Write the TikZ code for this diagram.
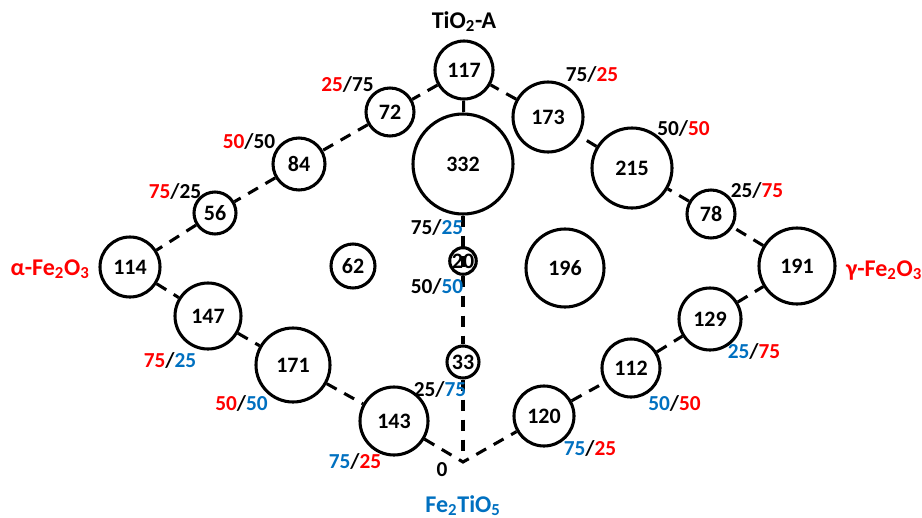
\documentclass[tikz,border=0pt]{standalone}
\usepackage{fontspec}
\setmainfont{Carlito}
\usetikzlibrary{backgrounds}
\definecolor{fred}{RGB}{255,0,0}
\definecolor{fblue}{RGB}{0,112,192}
\newcommand\cR[1]{\textcolor{fred}{#1}}
\newcommand\cB[1]{\textcolor{fblue}{#1}}
\begin{document}
\begin{tikzpicture}[x=0.75pt,y=-0.75pt,
  bub/.style={circle,draw,line width=2.3pt,fill=white,minimum size={(#1-1)*1.5pt},inner sep=0pt,
    font=\fontsize{16.5}{18}\selectfont\bfseries},
  lnk/.style={line width=2.3pt,dash pattern=on 8.5pt off 6.5pt},
  lab/.style={font=\fontsize{16}{18}\selectfont\bfseries,inner sep=0pt},
  ttl/.style={font=\fontsize{18}{20}\selectfont\bfseries,inner sep=0pt,anchor=base},
]
\useasboundingbox (0,0) rectangle (922,518);
% circles
\node[bub=30] (n117) at (464,70) {117};
\node[bub=25] (n72) at (390,112) {72};
\node[bub=27] (n84) at (299,164) {84};
\node[bub=22] (n56) at (215,213) {56};
\node[bub=31] (n114) at (130,267) {114};
\node[bub=34] (n147) at (208,316) {147};
\node[bub=38] (n171) at (293,365) {171};
\node[bub=35] (n143) at (394,421) {143};
\node[bub=51] (n332) at (463,164) {332};
\node[bub=36] (n173) at (548,117) {173};
\node[bub=41] (n215) at (632,168) {215};
\node[bub=25] (n78) at (711,214) {78};
\node[bub=39] (n191) at (797,266) {191};
\node[bub=32] (n129) at (710,319) {129};
\node[bub=30] (n112) at (631,368) {112};
\node[bub=31] (n120) at (544,416) {120};
\node[bub=23] (n62) at (353,266) {62};
\node[bub=40] (n196) at (565,268) {196};
\node[bub=14,fill=none] (n20) at (463,261) {20};
\node[bub=17] (n33) at (463,362) {33};
\coordinate (fe) at (463,462);
% connectors
\begin{scope}[on background layer]
\draw[lnk] (n117) -- (n72);
\draw[lnk] (n72) -- (n84);
\draw[lnk] (n84) -- (n56);
\draw[lnk] (n56) -- (n114);
\draw[lnk] (n114) -- (n147);
\draw[lnk] (n147) -- (n171);
\draw[lnk] (n171) -- (n143);
\draw[lnk] (n143) -- (fe) -- (n120);
\draw[lnk] (n120) -- (n112);
\draw[lnk] (n112) -- (n129);
\draw[lnk] (n129) -- (n191);
\draw[lnk] (n191) -- (n78);
\draw[lnk] (n78) -- (n215);
\draw[lnk] (n215) -- (n173);
\draw[lnk] (n173) -- (n117);
\draw[lnk] (n117) -- (n332);
\draw[lnk] (n332) -- (n33);
\draw[lnk] (n33) -- (fe);
\end{scope}
% phase labels
\node[ttl] (tTi) at (464,28) {TiO\textsubscript{2}-A};
\node[ttl,text=fred] (tA) at (50,275) {α-Fe\textsubscript{2}O\textsubscript{3}};
\node[ttl,text=fred] (tG) at (884,276) {γ-Fe\textsubscript{2}O\textsubscript{3}};
\node[ttl,text=fblue] (tF) at (463,512) {Fe\textsubscript{2}TiO\textsubscript{5}};
\node[lab] (z0) at (442,470) {0};
% ratio labels
\node[lab] (r1) at (347.5,84) {\cR{25}/75};
\node[lab] (r2) at (592,74) {75/\cR{25}};
\node[lab] (r3) at (249,141) {\cR{50}/50};
\node[lab] (r4) at (175,191.5) {\cR{75}/25};
\node[lab] (r5) at (683.5,128.5) {50/\cR{50}};
\node[lab] (r6) at (757,190) {25/\cR{75}};
\node[lab] (r7) at (170,360) {\cR{75}/\cB{25}};
\node[lab] (r8) at (241.5,403) {\cR{50}/\cB{50}};
\node[lab] (r9) at (355,461.5) {\cB{75}/\cR{25}};
\node[lab] (r10) at (437,227.5) {75/\cB{25}};
\node[lab] (r11) at (437,286) {50/\cB{50}};
\node[lab] (r12) at (440,389) {25/\cB{75}};
\node[lab] (r13) at (754,351) {\cB{25}/\cR{75}};
\node[lab] (r14) at (674.5,403) {\cB{50}/\cR{50}};
\node[lab] (r15) at (590,448.5) {\cB{75}/\cR{25}};
\end{tikzpicture}
\end{document}
